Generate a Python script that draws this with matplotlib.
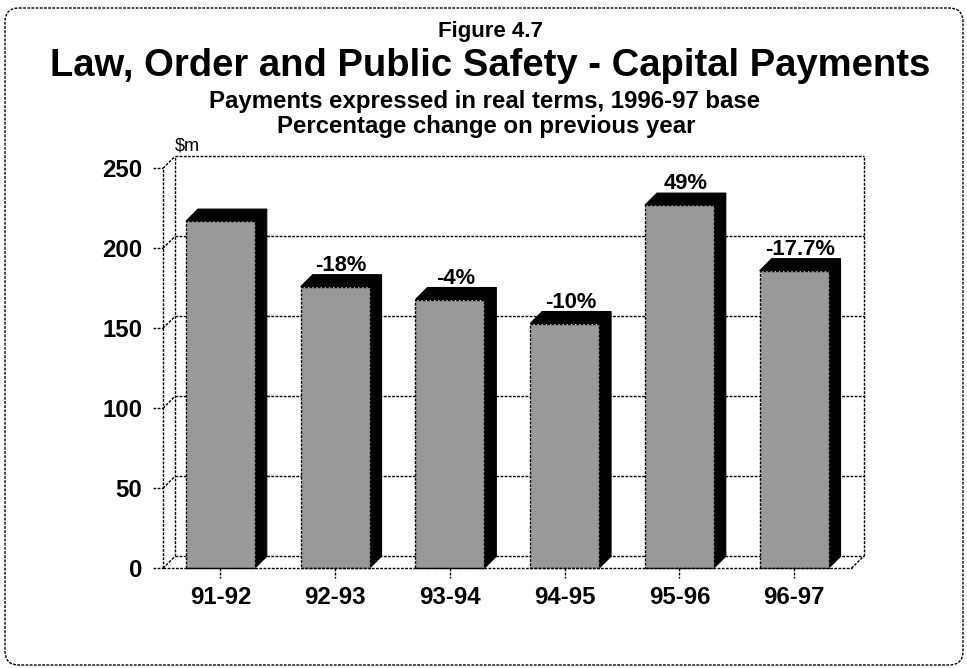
import matplotlib
matplotlib.use("Agg")
import matplotlib.pyplot as plt
from matplotlib.patches import Polygon, Rectangle, FancyBboxPatch

categories = ["91-92", "92-93", "93-94", "94-95", "95-96", "96-97"]
values = [217, 176, 168, 153, 227, 186]
changes = ["", "-18%", "-4%", "-10%", "49%", "-17.7%"]
yticks = [0, 50, 100, 150, 200, 250]

FONT = ["Liberation Sans", "DejaVu Sans"]
DOT = (0, (2, 1))

W, H, DPI = 967, 668, 100
fig = plt.figure(figsize=(W / DPI, H / DPI), dpi=DPI)

# background axes in pixel coordinates for frame and titles
bg = fig.add_axes([0, 0, 1, 1])
bg.set_xlim(0, W)
bg.set_ylim(H, 0)
bg.axis("off")
bg.add_patch(FancyBboxPatch((5, 8), 958, 657, boxstyle="round,pad=0,rounding_size=14",
                            fc="white", ec="black", lw=1.0, ls=DOT))
bg.text(491, 37, "Figure 4.7", ha="center", va="baseline", fontsize=16,
        fontweight="bold", family=FONT)
bg.text(490, 76, "Law, Order and Public Safety - Capital Payments", ha="center",
        va="baseline", fontsize=27.5, fontweight="bold", family=FONT)
bg.text(485, 108, "Payments expressed in real terms, 1996-97 base", ha="center",
        va="baseline", fontsize=17.3, fontweight="bold", family=FONT)
bg.text(486, 133, "Percentage change on previous year", ha="center",
        va="baseline", fontsize=17.3, fontweight="bold", family=FONT)
bg.text(175, 150, "$m", ha="left", va="baseline", fontsize=13, family=FONT)

# main chart axes (front plane)
ax = fig.add_axes([163 / W, (H - 568.3) / H, 688.5 / W, 400 / H])
ax.patch.set_alpha(0)
n = len(categories)
ax.set_xlim(-0.5, n - 0.5)
ax.set_ylim(0, 250)
for s in ax.spines.values():
    s.set_visible(False)

# depth offset (12 px right, 12 px up) expressed in data units
p0 = ax.transData.transform((0, 0))
p1 = ax.transData.transform((1, 50))
px_x = p1[0] - p0[0]
px_y = (p1[1] - p0[1]) / 50
dx = 12 / px_x
dy = 12 / px_y

xl, xr = -0.5, n - 0.5
top = yticks[-1]
lk = dict(color="black", lw=1.0, ls=DOT, clip_on=False)

# back wall gridlines, left wall connectors, y tick marks
for t in yticks:
    ax.plot([xl + dx, xr + dx], [t + dy, t + dy], zorder=1, **lk)
    ax.plot([xl, xl + dx], [t, t + dy], zorder=1, **lk)
    ax.plot([xl - 10 / px_x, xl], [t, t], zorder=1, **lk)
# back wall verticals
ax.plot([xl + dx, xl + dx], [dy, top + dy], zorder=1, **lk)
ax.plot([xr + dx, xr + dx], [dy, top + dy], zorder=1, **lk)
# front left axis
ax.plot([xl, xl], [0, top], zorder=1, **lk)
# floor
ax.plot([xl, xr], [0, 0], zorder=5, **lk)
ax.plot([xr, xr + dx], [0, dy], zorder=1, **lk)

# x tick marks
for i in range(n):
    ax.plot([i, i], [0, -10 / px_y], zorder=1, **lk)

# bars
bw = 0.6
for i, v in enumerate(values):
    l, r = i - bw / 2, i + bw / 2
    ax.add_patch(Polygon([(r, 0), (r + dx, dy), (r + dx, v + dy), (r, v)], closed=True,
                         fc="black", ec="black", lw=0.8, zorder=3, clip_on=False))
    ax.add_patch(Polygon([(l, v), (l + dx, v + dy), (r + dx, v + dy), (r, v)], closed=True,
                         fc="black", ec="black", lw=0.8, zorder=3, clip_on=False))
    ax.add_patch(Rectangle((l, 0), bw, v, fc="#999999", ec="black", lw=1.0, ls=DOT,
                           zorder=4, clip_on=False))
    if changes[i]:
        ax.annotate(changes[i], xy=(i + dx / 2, v + dy), xytext=(0, 4),
                    textcoords="offset pixels", ha="center", va="baseline",
                    fontsize=15.8, fontweight="bold", family=FONT, zorder=6,
                    annotation_clip=False)

ax.set_yticks(yticks)
ax.set_yticklabels([str(t) for t in yticks])
ax.set_xticks(range(n))
ax.set_xticklabels(categories)
ax.tick_params(axis="y", length=0, pad=15)
ax.tick_params(axis="x", length=0, pad=13)
for lab in ax.get_yticklabels() + ax.get_xticklabels():
    lab.set_fontsize(17.3)
    lab.set_fontweight("bold")
    lab.set_family(FONT)

fig.savefig("out.png", dpi=DPI)
